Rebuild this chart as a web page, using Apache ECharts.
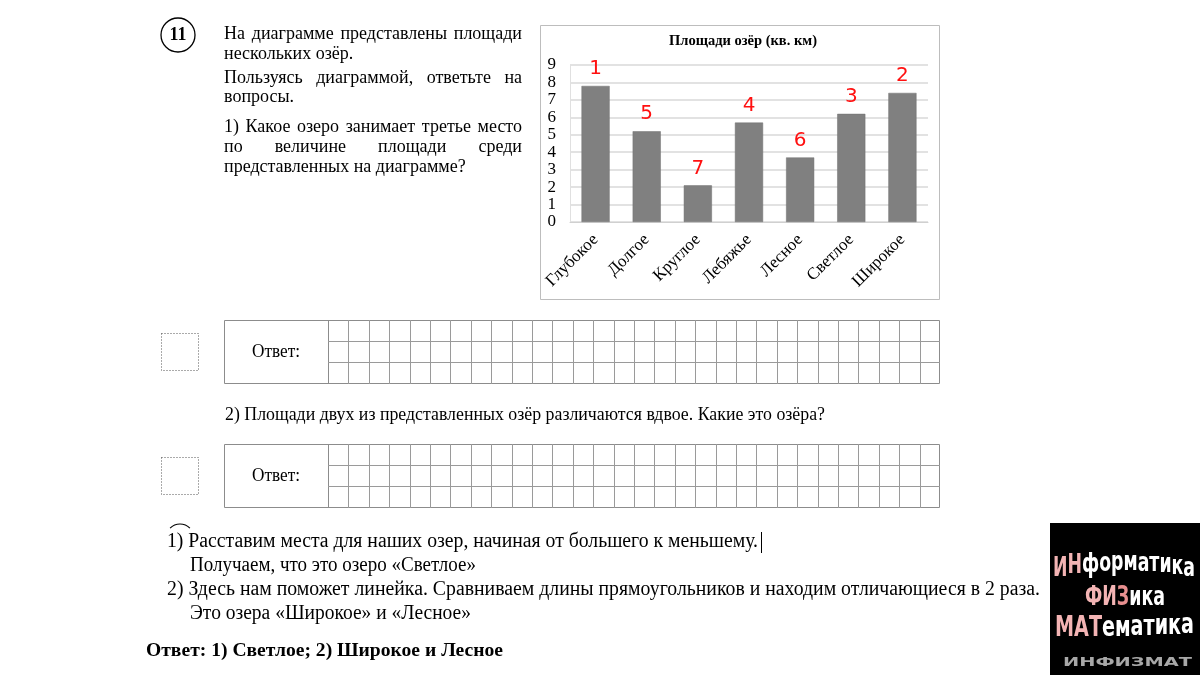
<!DOCTYPE html>
<html><head><meta charset="utf-8">
<script src="https://cdn.jsdelivr.net/npm/echarts@6/dist/echarts.min.js"></script>
<style>html,body{margin:0;padding:0;background:#fff}#c{width:1200px;height:675px}</style>
</head><body><div id="c"></div>
<script>
// ---- data ----
const categories = ['Глубокое', 'Долгое', 'Круглое', 'Лебяжье', 'Лесное', 'Светлое', 'Широкое'];
const areas = [7.8, 5.2, 2.1, 5.7, 3.7, 6.2, 7.4];
const ranks = [1, 5, 7, 4, 6, 3, 2];
const yMin = 0, yMax = 9, yStep = 1;
const chartTitle = 'Площади озёр (кв. км)';

// ---- texts ----
const taskNumber = '11';
const taskLines = [
  ['На диаграмме представлены площади', true],
  ['нескольких озёр.', false],
  ['Пользуясь диаграммой, ответьте на', true],
  ['вопросы.', false],
  ['1) Какое озеро занимает третье место', true],
  ['по величине площади среди', true],
  ['представленных на диаграмме?', false]
];
const question2 = '2) Площади двух из представленных озёр различаются вдвое. Какие это озёра?';
const answerLabel = 'Ответ:';
const solutionLines = [
  '1) Расставим места для наших озер, начиная от большего к меньшему.',
  'Получаем, что это озеро «Светлое»',
  '2) Здесь нам поможет линейка. Сравниваем длины прямоугольников и находим отличающиеся в 2 раза.',
  'Это озера «Широкое» и «Лесное»'
];
const finalAnswer = 'Ответ: 1) Светлое; 2) Широкое и Лесное';
const logoLines = ['ИНформатика', 'ФИЗика', 'МАТематика', 'ИНФИЗМАТ'];

// ---- helpers ----
const SERIF = 'Liberation Serif';
const ctx = document.createElement('canvas').getContext('2d');
function tw(text, size, weight, family) {
  ctx.font = (weight || 'normal') + ' ' + size + 'px "' + family + '"';
  return ctx.measureText(text).width;
}
function txt(text, x, y, size, o) {
  o = o || {};
  const fam = o.family || SERIF, wt = o.weight || 'normal';
  const el = {
    type: 'text', x: x, y: y, silent: true, z: 10,
    style: { text: text, fontSize: size, fontFamily: fam, fontWeight: wt,
      fill: o.fill || '#000', align: o.align || 'left', verticalAlign: 'middle' }
  };
  if (o.width) el.scaleX = o.width / tw(text, size, wt, fam);
  if (o.scaleY) el.scaleY = o.scaleY;
  return el;
}
function justified(text, x, y, size, width, o) {
  o = o || {};
  const fam = o.family || SERIF, wt = o.weight || 'normal';
  const words = text.split(' ');
  const ws = words.map(w => tw(w, size, wt, fam));
  const sum = ws.reduce((a, b) => a + b, 0);
  const gap = (width - sum) / (words.length - 1);
  const els = [];
  let cx = x;
  words.forEach((w, i) => { els.push(txt(w, cx, y, size, o)); cx += ws[i] + gap; });
  return els;
}
function charLine(text, colors, x0, x1, y, size, curve, o) {
  o = o || {};
  const fam = o.family, wt = 'bold';
  const chars = text.split('');
  const ws = chars.map(c => tw(c, size, wt, fam));
  const total = ws.reduce((a, b) => a + b, 0);
  const s = (x1 - x0) / total;
  const els = [];
  let acc = 0;
  chars.forEach((c, i) => {
    const t = (acc + ws[i] / 2) / total;
    const dy = curve(t);
    els.push({
      type: 'text', x: x0 + acc * s, y: y + dy, scaleX: s, scaleY: o.scaleY || 1, silent: true, z: 12,
      style: { text: c, fontSize: size, fontFamily: fam, fontWeight: wt, fill: colors[i],
        align: 'left', verticalAlign: 'middle' }
    });
    acc += ws[i];
  });
  return els;
}

const graphics = [];
// task number circle
graphics.push({ type: 'circle', shape: { cx: 178, cy: 35, r: 17 }, style: { fill: 'none', stroke: '#000', lineWidth: 1.3 }, silent: true });
graphics.push(txt(taskNumber, 178, 35, 18, { weight: 'bold', align: 'center' }));
// task paragraph
const taskY = [34, 54, 78, 97, 127, 147, 167];
taskLines.forEach((ln, i) => {
  if (ln[1]) justified(ln[0], 224, taskY[i], 18, 298).forEach(e => graphics.push(e));
  else graphics.push(txt(ln[0], 224, taskY[i], 18));
});
// chart frame
graphics.push({ type: 'rect', shape: { x: 540.5, y: 25.5, width: 399, height: 274 }, style: { fill: 'none', stroke: '#bdbdbd', lineWidth: 1 }, silent: true, z: 1 });

// answer boxes
function answerBox(y0) {
  graphics.push({ type: 'rect', shape: { x: 161.5, y: y0 + 13.5, width: 37, height: 37 }, style: { fill: 'none', stroke: '#555', lineWidth: 1, lineDash: [1, 2] }, silent: true });
  graphics.push({ type: 'rect', shape: { x: 224.5, y: y0 + 0.5, width: 715, height: 63 }, style: { fill: 'none', stroke: '#8c8c8c', lineWidth: 1 }, silent: true });
  graphics.push({ type: 'line', shape: { x1: 328.5, y1: y0, x2: 328.5, y2: y0 + 64 }, style: { stroke: '#8c8c8c', lineWidth: 1 }, silent: true });
  [21, 42].forEach(d => graphics.push({ type: 'line', shape: { x1: 328, y1: y0 + d + 0.5, x2: 940, y2: y0 + d + 0.5 }, style: { stroke: '#9a9a9a', lineWidth: 1 }, silent: true }));
  const n = 30, cw = (940 - 328) / n;
  for (let k = 1; k < n; k++) {
    const x = Math.round(328 + k * cw) + 0.5;
    graphics.push({ type: 'line', shape: { x1: x, y1: y0, x2: x, y2: y0 + 64 }, style: { stroke: '#9a9a9a', lineWidth: 1 }, silent: true });
  }
  graphics.push(txt(answerLabel, 252, y0 + 32, 18, { width: 48 }));
}
answerBox(320);
graphics.push(txt(question2, 225, 415, 18, { width: 600 }));
answerBox(444);

// solution
graphics.push({ type: 'arc', shape: { cx: 180, cy: 538, r: 14, startAngle: Math.PI * 1.25, endAngle: Math.PI * 1.75, clockwise: true }, style: { fill: 'none', stroke: '#000', lineWidth: 1.2 }, silent: true });
graphics.push(txt(solutionLines[0], 167, 542, 20, { width: 591 }));
graphics.push({ type: 'line', shape: { x1: 761.5, y1: 532, x2: 761.5, y2: 553 }, style: { stroke: '#000', lineWidth: 1 }, silent: true });
graphics.push(txt(solutionLines[1], 190, 566, 20, { width: 286 }));
graphics.push(txt(solutionLines[2], 167, 590, 20, { width: 873 }));
graphics.push(txt(solutionLines[3], 190, 614, 20, { width: 281 }));
graphics.push(txt(finalAnswer, 146, 651, 19, { weight: 'bold', width: 357 }));

// logo
graphics.push({ type: 'rect', shape: { x: 1050, y: 523, width: 150, height: 152 }, style: { fill: '#000' }, silent: true, z: 11 });
const LOGOF = 'DejaVu Sans';
const PINK = '#f3b4b4', WH = '#ffffff';
charLine(logoLines[0], [PINK, PINK, WH, WH, WH, WH, WH, WH, WH, WH, WH], 1053, 1195, 570, 20,
  t => -7 * (1 - Math.pow(2 * t - 1, 2)), { family: LOGOF, scaleY: 1.35 }).forEach(e => graphics.push(e));
charLine(logoLines[1], [PINK, PINK, '#e88f8f', WH, WH, WH], 1085, 1165, 598, 21,
  t => 0, { family: LOGOF, scaleY: 1.3 }).forEach(e => graphics.push(e));
charLine(logoLines[2], [PINK, PINK, PINK, WH, WH, WH, WH, WH, WH, WH], 1055, 1194, 628, 20,
  t => -3 * t + 2 * (1 - Math.pow(2 * t - 1, 2)), { family: LOGOF, scaleY: 1.4 }).forEach(e => graphics.push(e));
charLine(logoLines[3], ['#a8a8a8', '#a8a8a8', '#a8a8a8', '#a8a8a8', '#a8a8a8', '#a8a8a8', '#a8a8a8', '#a8a8a8'], 1063, 1192, 663, 12,
  t => 0, { family: LOGOF, scaleY: 1 }).forEach(e => graphics.push(e));

const chart = echarts.init(document.getElementById('c'), null, { renderer: 'canvas' });
chart.setOption({
  backgroundColor: '#ffffff',
  animation: false,
  title: {
    text: chartTitle, left: 738, top: 29, textAlign: 'center',
    textStyle: { fontFamily: SERIF, fontWeight: 'bold', fontSize: 14.5, color: '#000' }
  },
  grid: { left: 570, top: 65, width: 358, height: 157, containLabel: false },
  xAxis: {
    type: 'category', data: categories,
    axisLine: { show: true, lineStyle: { color: '#d0d0d0', width: 1 } },
    axisTick: { show: false },
    axisLabel: { rotate: 45, margin: 15, fontFamily: SERIF, fontSize: 17, color: '#000', interval: 0 }
  },
  yAxis: {
    type: 'value', min: yMin, max: yMax, interval: yStep,
    axisLine: { show: true, lineStyle: { color: '#e0e0e0' } },
    axisTick: { show: false },
    splitLine: { show: true, lineStyle: { color: '#d9d9d9', width: 1.5 } },
    axisLabel: { margin: 14, fontFamily: SERIF, fontSize: 17, color: '#000' }
  },
  series: [{
    type: 'bar', data: areas, barWidth: '55%',
    itemStyle: { color: '#808080', borderColor: '#707070', borderWidth: 0.5 },
    label: {
      show: true, position: 'top', distance: 7,
      formatter: p => String(ranks[p.dataIndex]),
      fontFamily: 'DejaVu Sans', fontSize: 20, color: '#ff1010'
    }
  }],
  graphic: graphics
});
</script></body></html>
